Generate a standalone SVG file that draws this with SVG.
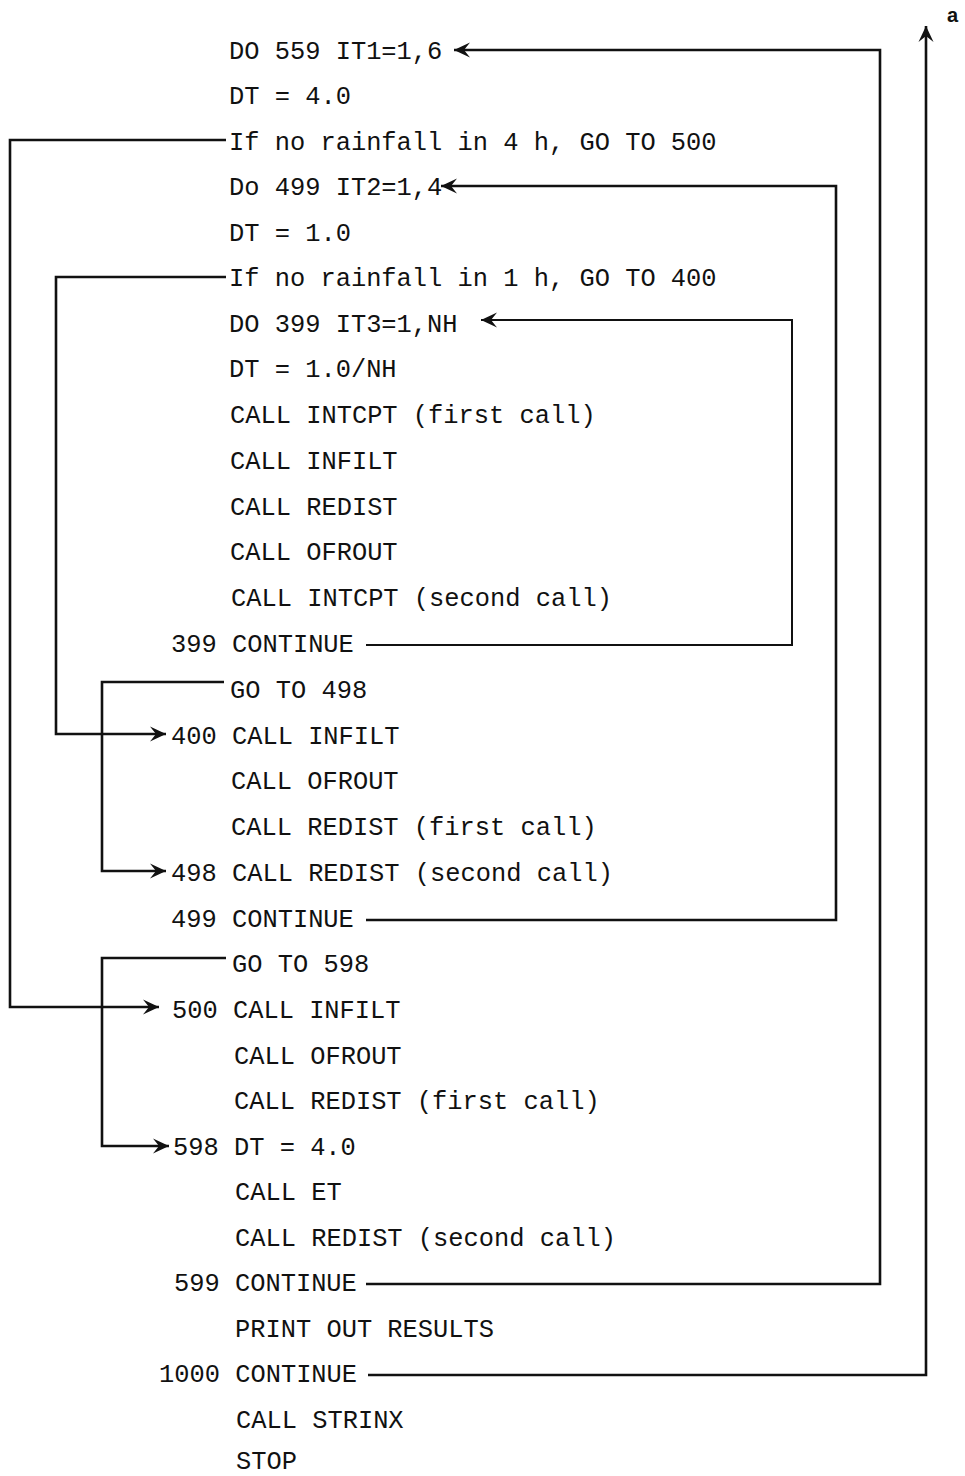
<svg xmlns="http://www.w3.org/2000/svg" width="965" height="1476" viewBox="0 0 965 1476">
<style>
text{font-family:"Liberation Mono","DejaVu Sans Mono",monospace;font-size:25.4px;fill:#111}
.c{fill:none;stroke:#111;stroke-width:2.6;stroke-linejoin:miter}
.t{stroke-width:2}
</style>
<defs>
<marker id="ah" markerUnits="userSpaceOnUse" markerWidth="22" markerHeight="22" refX="18" refY="9" orient="auto">
<path d="M18,9 L2,1.5 L8,9 L2,16.5 Z" fill="#111"/>
</marker>
</defs>
<rect width="965" height="1476" fill="#fff"/>
<g id="connectors">
<polyline class="c" points="366,1284 880,1284 880,50 454,50" marker-end="url(#ah)"/>
<polyline class="c" points="366,920 836,920 836,186 441,186" marker-end="url(#ah)"/>
<polyline class="c t" points="366,645 792,645 792,320 481,320" marker-end="url(#ah)"/>
<polyline class="c" points="368,1375 926,1375 926,26" marker-end="url(#ah)"/>
<polyline class="c" points="226,140 10,140 10,1007 159,1007" marker-end="url(#ah)"/>
<polyline class="c" points="226,277 56,277 56,734 166,734" marker-end="url(#ah)"/>
<polyline class="c" points="224,682 102,682 102,871 166,871" marker-end="url(#ah)"/>
<polyline class="c" points="226,958 102,958 102,1146 169,1146" marker-end="url(#ah)"/>
</g>
<g id="n1"><text x="229" y="59">DO 559 IT1=1,6</text></g>
<g id="n2"><text x="229" y="104">DT = 4.0</text></g>
<g id="n3"><text x="229" y="150">If no rainfall in 4 h, GO TO 500</text></g>
<g id="n4"><text x="229" y="195">Do 499 IT2=1,4</text></g>
<g id="n5"><text x="229" y="241">DT = 1.0</text></g>
<g id="n6"><text x="229" y="286">If no rainfall in 1 h, GO TO 400</text></g>
<g id="n7"><text x="229" y="332">DO 399 IT3=1,NH</text></g>
<g id="n8"><text x="229" y="377">DT = 1.0/NH</text></g>
<g id="n9"><text x="230" y="423">CALL INTCPT (first call)</text></g>
<g id="n10"><text x="230" y="469">CALL INFILT</text></g>
<g id="n11"><text x="230" y="515">CALL REDIST</text></g>
<g id="n12"><text x="230" y="560">CALL OFROUT</text></g>
<g id="n13"><text x="231" y="606">CALL INTCPT (second call)</text></g>
<g id="n14"><text x="171" y="652">399 CONTINUE</text></g>
<g id="n15"><text x="230" y="698">GO TO 498</text></g>
<g id="n16"><text x="171" y="744">400 CALL INFILT</text></g>
<g id="n17"><text x="231" y="789">CALL OFROUT</text></g>
<g id="n18"><text x="231" y="835">CALL REDIST (first call)</text></g>
<g id="n19"><text x="171" y="881">498 CALL REDIST (second call)</text></g>
<g id="n20"><text x="171" y="927">499 CONTINUE</text></g>
<g id="n21"><text x="232" y="972">GO TO 598</text></g>
<g id="n22"><text x="172" y="1018">500 CALL INFILT</text></g>
<g id="n23"><text x="234" y="1064">CALL OFROUT</text></g>
<g id="n24"><text x="234" y="1109">CALL REDIST (first call)</text></g>
<g id="n25"><text x="173" y="1155">598 DT = 4.0</text></g>
<g id="n26"><text x="235" y="1200">CALL ET</text></g>
<g id="n27"><text x="235" y="1246">CALL REDIST (second call)</text></g>
<g id="n28"><text x="174" y="1291">599 CONTINUE</text></g>
<g id="n29"><text x="235" y="1337">PRINT OUT RESULTS</text></g>
<g id="n30"><text x="159" y="1382">1000 CONTINUE</text></g>
<g id="n31"><text x="236" y="1428">CALL STRINX</text></g>
<g id="n32"><text x="236" y="1469">STOP</text></g>
<g id="a"><text x="947" y="22" style="font-family:'Liberation Sans',Arial,sans-serif;font-size:20px;font-weight:bold">a</text></g>
</svg>
